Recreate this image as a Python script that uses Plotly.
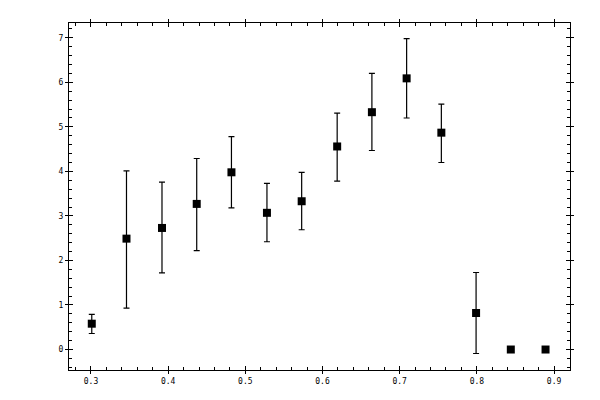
import plotly.graph_objects as go

# Data
x_vals = [0.301, 0.346, 0.392, 0.437, 0.482, 0.528, 0.573, 0.619, 0.664, 0.709, 0.754, 0.799, 0.844, 0.889]
y_vals = [0.58, 2.49, 2.73, 3.27, 3.98, 3.07, 3.33, 4.56, 5.33, 6.09, 4.87, 0.82, 0.0, 0.0]
err_up = [0.21, 1.52, 1.03, 1.02, 0.80, 0.66, 0.65, 0.75, 0.87, 0.89, 0.64, 0.91, 0.0, 0.0]
err_down = [0.22, 1.56, 1.01, 1.05, 0.80, 0.65, 0.64, 0.78, 0.86, 0.89, 0.67, 0.91, 0.0, 0.0]

x_range = [0.2715, 0.9207]
y_range = [-0.46, 7.333]

fig = go.Figure()

fig.add_trace(go.Scatter(
    x=x_vals,
    y=y_vals,
    mode='markers',
    marker=dict(symbol='square', size=8, color='black'),
    error_y=dict(
        type='data',
        symmetric=False,
        array=err_up,
        arrayminus=err_down,
        color='black',
        thickness=1.2,
        width=3,
    ),
    showlegend=False,
))

# empty trace so the overlay axes (inner ticks) get drawn
fig.add_trace(go.Scatter(x=[], y=[], xaxis='x2', yaxis='y2', showlegend=False, hoverinfo='skip'))

tick_font = dict(family='DejaVu Sans Mono', size=8, color='black')

# page body has an 8px default margin, so the margins are shifted by that
fig.update_layout(
    width=600,
    height=400,
    margin=dict(l=61.3, r=37.7, t=11.3, b=38),
    paper_bgcolor='white',
    plot_bgcolor='white',
    xaxis=dict(
        range=x_range,
        tickmode='array',
        tickvals=[0.3, 0.4, 0.5, 0.6, 0.7, 0.8, 0.9],
        ticktext=['0.3', '0.4', '0.5', '0.6', '0.7', '0.8', '0.9'],
        ticks='outside',
        ticklen=3,
        tickcolor='black',
        showline=True,
        linecolor='black',
        linewidth=1,
        mirror='ticks',
        showgrid=False,
        zeroline=False,
        tickfont=tick_font,
    ),
    yaxis=dict(
        range=y_range,
        tickmode='array',
        tickvals=[0, 1, 2, 3, 4, 5, 6, 7],
        ticktext=['0', '1', '2', '3', '4', '5', '6', '7'],
        ticks='outside',
        ticklen=3,
        tickcolor='black',
        showline=True,
        linecolor='black',
        linewidth=1,
        mirror='ticks',
        showgrid=False,
        zeroline=False,
        tickfont=tick_font,
    ),
    xaxis2=dict(
        overlaying='x',
        range=x_range,
        dtick=0.1,
        tick0=0.3,
        ticks='inside',
        ticklen=4,
        tickcolor='black',
        minor=dict(ticks='inside', ticklen=3, dtick=0.02, tick0=0.3, tickcolor='black'),
        mirror='ticks',
        showticklabels=False,
        showline=False,
        showgrid=False,
        zeroline=False,
    ),
    yaxis2=dict(
        overlaying='y',
        range=y_range,
        dtick=1,
        tick0=0,
        ticks='inside',
        ticklen=4,
        tickcolor='black',
        minor=dict(ticks='inside', ticklen=3, dtick=0.2, tick0=0, tickcolor='black'),
        mirror='ticks',
        showticklabels=False,
        showline=False,
        showgrid=False,
        zeroline=False,
    ),
)

fig.write_html('out.html')
